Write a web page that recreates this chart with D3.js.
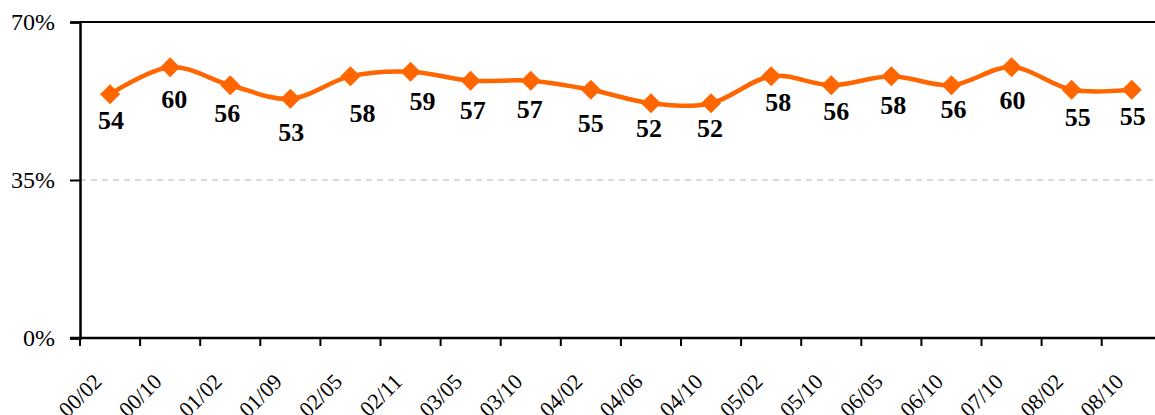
<!DOCTYPE html>
<html>
<head>
<meta charset="utf-8">
<script src="https://cdn.jsdelivr.net/npm/d3@7"></script>
<style>
  body { margin: 0; background: #fff; }
  svg { display: block; }
  svg text { font-family: "Liberation Serif", "Times New Roman", serif; fill: #000; }
</style>
</head>
<body>
<svg id="chart" width="1155" height="415"></svg>
<script>
// categories (survey dates) and values in percent
const periods = ["00/02", "00/10", "01/02", "01/09", "02/05", "02/11", "03/05", "03/10", "04/02",
                 "04/06", "04/10", "05/02", "05/10", "06/05", "06/10", "07/10", "08/02", "08/10"];
const values = [54, 60, 56, 53, 58, 59, 57, 57, 55, 52, 52, 58, 56, 58, 56, 60, 55, 55];
const yTicks = [0, 35, 70];

// hand-placed label nudges, as in the original chart (dx, dy from the marker)
const labelNudge = [[1, 35], [4, 41], [-3, 37], [1, 42], [12, 46], [12, 38], [2, 38], [-1, 37], [0, 42],
                    [-2, 34], [-1, 34], [7, 35], [5, 35], [2, 38], [2, 33], [1, 42], [6, 36], [1, 35]];

const svg = d3.select("#chart");
const margin = {left: 80, top: 22, bottom: 77};
const bandW = 60.1;
const plotW = bandW * periods.length;
const plotH = 415 - margin.top - margin.bottom;

const x = d3.scaleBand().domain(periods).range([margin.left, margin.left + plotW]);
const y = d3.scaleLinear().domain([0, 70]).range([margin.top + plotH, margin.top]);

// dashed gridline at 35%
svg.append("g")
    .selectAll("line")
    .data(yTicks.filter(t => t > 0 && t < 70))
    .join("line")
    .attr("x1", margin.left).attr("x2", margin.left + plotW)
    .attr("y1", d => y(d)).attr("y2", d => y(d))
    .attr("stroke", "#b3b3b3").attr("stroke-width", 1)
    .attr("stroke-dasharray", "6,5");

// top border of the plot area
svg.append("line")
    .attr("x1", margin.left).attr("x2", margin.left + plotW)
    .attr("y1", y(70)).attr("y2", y(70))
    .attr("stroke", "#000").attr("stroke-width", 2);

// y axis
const yAxis = svg.append("g")
    .attr("transform", `translate(${margin.left},0)`)
    .call(d3.axisLeft(y).tickValues(yTicks).tickSize(10).tickPadding(15).tickFormat(d => d + "%"));
yAxis.select(".domain").attr("stroke-width", 2.5);
yAxis.selectAll(".tick line").attr("stroke-width", 2);
yAxis.selectAll("text").style("font-size", "24px");

// x axis: ticks on band edges
const xAxis = svg.append("g")
    .attr("transform", `translate(0,${y(0)})`);
xAxis.append("line")
    .attr("x1", margin.left - 10).attr("x2", margin.left + plotW)
    .attr("stroke", "#000").attr("stroke-width", 2.5);
xAxis.selectAll("line.tick")
    .data(periods)
    .join("line")
    .attr("class", "tick")
    .attr("x1", d => x(d)).attr("x2", d => x(d))
    .attr("y1", 0).attr("y2", 8)
    .attr("stroke", "#000").attr("stroke-width", 2);
xAxis.selectAll("text")
    .data(periods)
    .join("text")
    .attr("transform", d => `translate(${x(d) + x.bandwidth() / 2 - 7},45) rotate(-45)`)
    .attr("text-anchor", "end")
    .style("font-size", "22px")
    .text(d => d);

// smoothed line
const cx = (d, i) => x(periods[i]) + x.bandwidth() / 2;
const line = d3.line()
    .x(cx)
    .y(d => y(d))
    .curve(d3.curveCatmullRom.alpha(0));
svg.append("path")
    .datum(values)
    .attr("d", line)
    .attr("fill", "none")
    .attr("stroke", "#ff6600")
    .attr("stroke-width", 4.5);

// diamond markers
const diamond = d3.symbol().type(d3.symbolSquare).size(200);
svg.append("g")
    .selectAll("path")
    .data(values)
    .join("path")
    .attr("d", diamond)
    .attr("transform", (d, i) => `translate(${cx(d, i)},${y(d)}) rotate(45)`)
    .attr("fill", "#ff6600");

// value labels
svg.append("g")
    .selectAll("text")
    .data(values)
    .join("text")
    .attr("x", (d, i) => cx(d, i) + labelNudge[i][0])
    .attr("y", (d, i) => y(d) + labelNudge[i][1])
    .attr("text-anchor", "middle")
    .style("font-size", "26px")
    .style("font-weight", "bold")
    .text(d => d);
</script>
</body>
</html>
